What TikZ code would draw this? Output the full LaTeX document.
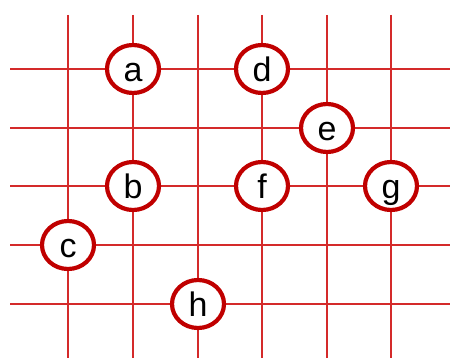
\documentclass[tikz,border=0pt]{standalone}
\usepackage{fontspec}
\setmainfont{Liberation Sans}
\usetikzlibrary{shapes.geometric}
\definecolor{gridred}{HTML}{D42A2A}
\definecolor{ringred}{HTML}{C00000}
\begin{document}
\begin{tikzpicture}[x=1pt,y=-1pt,
  gridline/.style={draw=gridred, line width=1.3pt},
  vnode/.style={ellipse, draw=ringred, line width=4.2pt, fill=white, minimum width=52pt, minimum height=48pt, inner sep=0pt, text height=25pt, text depth=0pt, font=\fontsize{34}{34}\selectfont}]
\useasboundingbox (0,0) rectangle (450,358);
\foreach \x in {68,133,198,262,327,391} \draw[gridline] (\x,15) -- (\x,358);
\foreach \y in {69,128,186,245,304} \draw[gridline] (10,\y) -- (450,\y);
\node[vnode] (a) at (133,69) {a};
\node[vnode] (d) at (262,69) {d};
\node[vnode] (e) at (327,128) {e};
\node[vnode] (b) at (133,186) {b};
\node[vnode] (f) at (262,186) {f};
\node[vnode] (g) at (391,186) {g};
\node[vnode] (c) at (68,245) {c};
\node[vnode] (h) at (198,304) {h};
\end{tikzpicture}
\end{document}
